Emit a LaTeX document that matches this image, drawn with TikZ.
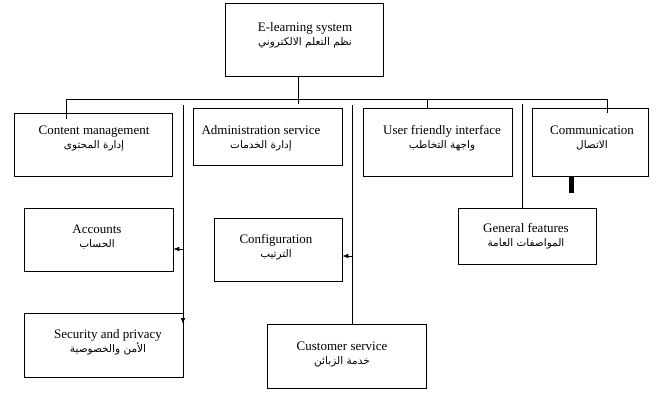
\documentclass[tikz,border=0pt]{standalone}
\usepackage{fontspec}
\setmainfont{Liberation Serif}
\newfontfamily\arfont[Script=Arabic]{DejaVu Sans}
\TeXXeTstate=1
\usetikzlibrary{arrows.meta}
\newcommand{\bitxt}[2]{#1\\{\arfont\fontsize{10.5}{12}\selectfont #2}}

\begin{document}
\begin{tikzpicture}[
  x=1pt, y=-1pt,
  box/.style={draw, line width=0.6pt, inner sep=0pt},
  lbl/.style={align=center, inner sep=0pt, font=\fontsize{13}{14}\selectfont},
  wire/.style={line width=0.6pt},
  >={Latex[length=6pt,width=4.5pt]}
]
  \useasboundingbox (0,0) rectangle (657,392);

  % boxes
  \node[box, minimum width=158pt, minimum height=73pt] (els) at (304,39.5) {};
  \node[box, minimum width=158pt, minimum height=63pt] (cm) at (93,144.5) {};
  \node[box, minimum width=149pt, minimum height=57pt] (adm) at (267.5,136.5) {};
  \node[box, minimum width=149pt, minimum height=68pt] (ufi) at (437.5,142) {};
  \node[box, minimum width=116pt, minimum height=68pt] (com) at (590,142) {};
  \node[box, minimum width=149pt, minimum height=63pt] (acc) at (98.5,239.5) {};
  \node[box, minimum width=128pt, minimum height=63pt] (conf) at (278,249.5) {};
  \node[box, minimum width=159pt, minimum height=64pt] (sec) at (103.5,345) {};
  \node[box, minimum width=159pt, minimum height=64pt] (cust) at (346.5,356) {};
  \node[box, minimum width=138pt, minimum height=56pt] (gen) at (527,236) {};

  % texts
  \node[lbl] (els-t) at (305,35) {\bitxt{E-learning system}{\beginR نظم التعلم الالكتروني\endR}};
  \node[lbl] (cm-t) at (94,138) {\bitxt{Content management}{\beginR إدارة المحتوى\endR}};
  \node[lbl] (adm-t) at (261,138) {\bitxt{Administration service}{\beginR إدارة الخدمات\endR}};
  \node[lbl] (ufi-t) at (442,138) {\bitxt{User friendly interface}{\beginR واجهة التخاطب\endR}};
  \node[lbl] (com-t) at (592,138) {\bitxt{Communication}{\beginR الاتصال\endR}};
  \node[lbl] (acc-t) at (97,237) {\bitxt{Accounts}{\beginR الحساب\endR}};
  \node[lbl] (conf-t) at (276,247) {\bitxt{Configuration}{\beginR الترتيب\endR}};
  \node[lbl] (sec-t) at (108,342) {\bitxt{Security and privacy}{\beginR الأمن والخصوصية\endR}};
  \node[lbl] (cust-t) at (342,354) {\bitxt{Customer service}{\beginR خدمة الزبائن\endR}};
  \node[lbl] (gen-t) at (526,236) {\bitxt{General features}{\beginR المواصفات العامة\endR}};

  % bus
  \coordinate (busL) at (66,99);
  \coordinate (busR) at (607,99);
  \coordinate (top) at (298,104);
  \coordinate (ufiC) at (427,99);
  \draw[wire] (busL) -- (busR);
  \draw[wire] (top |- els.south) -- (top);
  \draw[wire] (busL) -- ++(0,20);
  \draw[wire] (busR) -- ++(0,14);
  \draw[wire] (ufiC) -- (ufiC |- ufi.north);
  \coordinate (bar) at (571.5,193);
  \draw[line width=5pt] (bar |- com.south) -- (bar);

  % feeders
  \coordinate (v1) at (183,105);
  \coordinate (v1e) at (183,324);
  \coordinate (a1) at (183,249);
  \draw[wire, ->] (v1) -- (v1e);
  \draw[wire, ->] (a1) -- (a1 -| acc.east);
  \coordinate (v2) at (352,105);
  \coordinate (a2) at (352,256);
  \draw[wire] (v2) -- (v2 |- cust.north);
  \draw[wire, ->] (a2) -- (a2 -| conf.east);
  \coordinate (v3) at (522,104);
  \draw[wire] (v3) -- (v3 |- gen.north);
\end{tikzpicture}
\end{document}
